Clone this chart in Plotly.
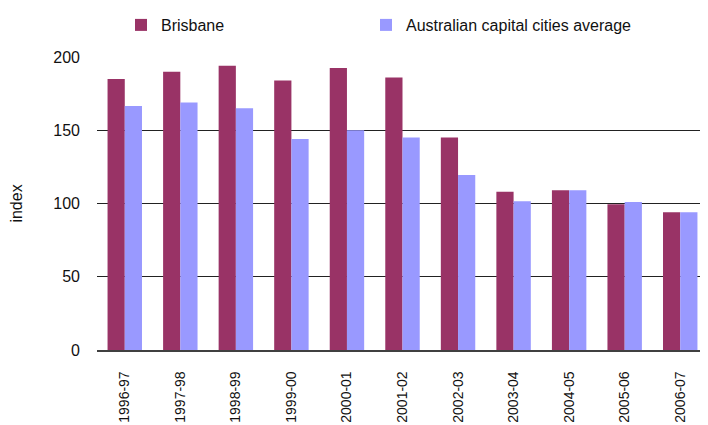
import plotly.graph_objects as go

categories = ["1996-97", "1997-98", "1998-99", "1999-00", "2000-01", "2001-02",
              "2002-03", "2003-04", "2004-05", "2005-06", "2006-07"]
brisbane = [185, 190, 194, 184, 192.5, 186, 145, 108, 109, 99.5, 94]
aus_avg = [166.5, 169, 165, 144, 150, 145, 119.5, 101.5, 109, 101, 94]
y_ticks = [0, 50, 100, 150, 200]

FONT = "Liberation Sans, Arial, sans-serif"
# page body has an 8px default margin: size the figure so it fills the 708x425 window
W, H = 700, 417

fig = go.Figure()
fig.add_trace(go.Bar(name="Brisbane", x=categories, y=brisbane, legend="legend",
                     marker=dict(color="#993366", line=dict(width=0))))
fig.add_trace(go.Bar(name="Australian capital cities average", x=categories, y=aus_avg,
                     legend="legend2",
                     marker=dict(color="#9999FF", line=dict(width=0))))

leg_common = dict(orientation="h", xref="container", yref="container",
                  xanchor="left", yanchor="top", font=dict(size=16),
                  bgcolor="rgba(0,0,0,0)")

fig.update_layout(
    width=W, height=H,
    margin=dict(l=89, r=0, t=49, b=75, autoexpand=False),
    paper_bgcolor="white", plot_bgcolor="white",
    font=dict(family=FONT, size=16, color="#111111"),
    barmode="group", bargap=0.38, bargroupgap=0,
    legend=dict(x=113/W, y=1.0, **leg_common),
    legend2=dict(x=358/W, y=1.0, **leg_common),
    showlegend=True,
)
fig.update_xaxes(type="category", showline=True, linecolor="#404040", linewidth=1.5,
                 ticks="", tickangle=-90, ticklabelstandoff=14, showgrid=False,
                 tickfont=dict(size=14), automargin=False)
fig.update_yaxes(range=[0, 200], tickvals=y_ticks, showline=False, zeroline=False,
                 gridcolor="#222222", gridwidth=1, ticks="", ticklabelstandoff=16,
                 tickfont=dict(size=16), automargin=False,
                 title=dict(text="index", font=dict(size=16), standoff=26))

fig.write_html("out.html")
